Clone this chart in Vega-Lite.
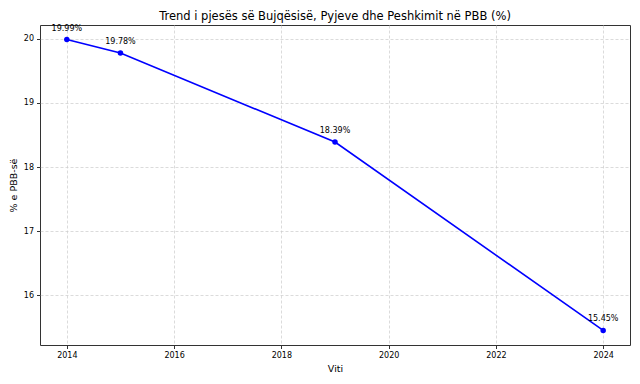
{
  "$schema": "https://vega.github.io/schema/vega-lite/v6.json",
  "width": 590,
  "height": 320,
  "autosize": {"type": "none"},
  "padding": {"left": 40, "top": 25, "right": 10, "bottom": 39},
  "background": "white",
  "title": {"text": "Trend i pjesës së Bujqësisë, Pyjeve dhe Peshkimit në PBB (%)", "font": "DejaVu Sans", "fontSize": 11.5, "fontWeight": "normal", "color": "#000000", "offset": 4, "dy": 2},
  "config": {
    "view": {"stroke": "#333333", "strokeWidth": 1},
    "axis": {
      "labelFont": "DejaVu Sans", "labelFontSize": 8, "labelColor": "#000000",
      "titleFont": "DejaVu Sans", "titleFontSize": 9.5, "titleFontWeight": "normal", "titleColor": "#000000",
      "grid": true, "gridColor": "#cccccc", "gridDash": [3, 2], "gridWidth": 0.7,
      "domain": false, "tickColor": "#333333", "tickSize": 3.5
    }
  },
  "data": {"values": [
    {"year": 2014, "value": 19.99, "label": "19.99%"},
    {"year": 2015, "value": 19.78, "label": "19.78%"},
    {"year": 2019, "value": 18.39, "label": "18.39%"},
    {"year": 2024, "value": 15.45, "label": "15.45%"}
  ]},
  "encoding": {
    "x": {"field": "year", "type": "quantitative", "scale": {"domain": [2013.5, 2024.5], "nice": false, "zero": false},
      "axis": {"title": "Viti", "values": [2014, 2016, 2018, 2020, 2022, 2024], "format": "d", "titlePadding": 4, "labelPadding": 3}},
    "y": {"field": "value", "type": "quantitative", "scale": {"domain": [15.223, 20.217], "nice": false, "zero": false},
      "axis": {"title": "% e PBB-së", "values": [16, 17, 18, 19, 20], "format": "d", "titlePadding": 5, "labelPadding": 3}}
  },
  "layer": [
    {"mark": {"type": "line", "color": "#0000ff", "strokeWidth": 1.6}},
    {"mark": {"type": "point", "filled": true, "color": "#0000ff", "size": 30, "opacity": 1}},
    {"mark": {"type": "text", "font": "DejaVu Sans", "fontSize": 8, "color": "#000000", "dy": -7, "baseline": "bottom"},
      "encoding": {"text": {"field": "label"}}}
  ]
}
